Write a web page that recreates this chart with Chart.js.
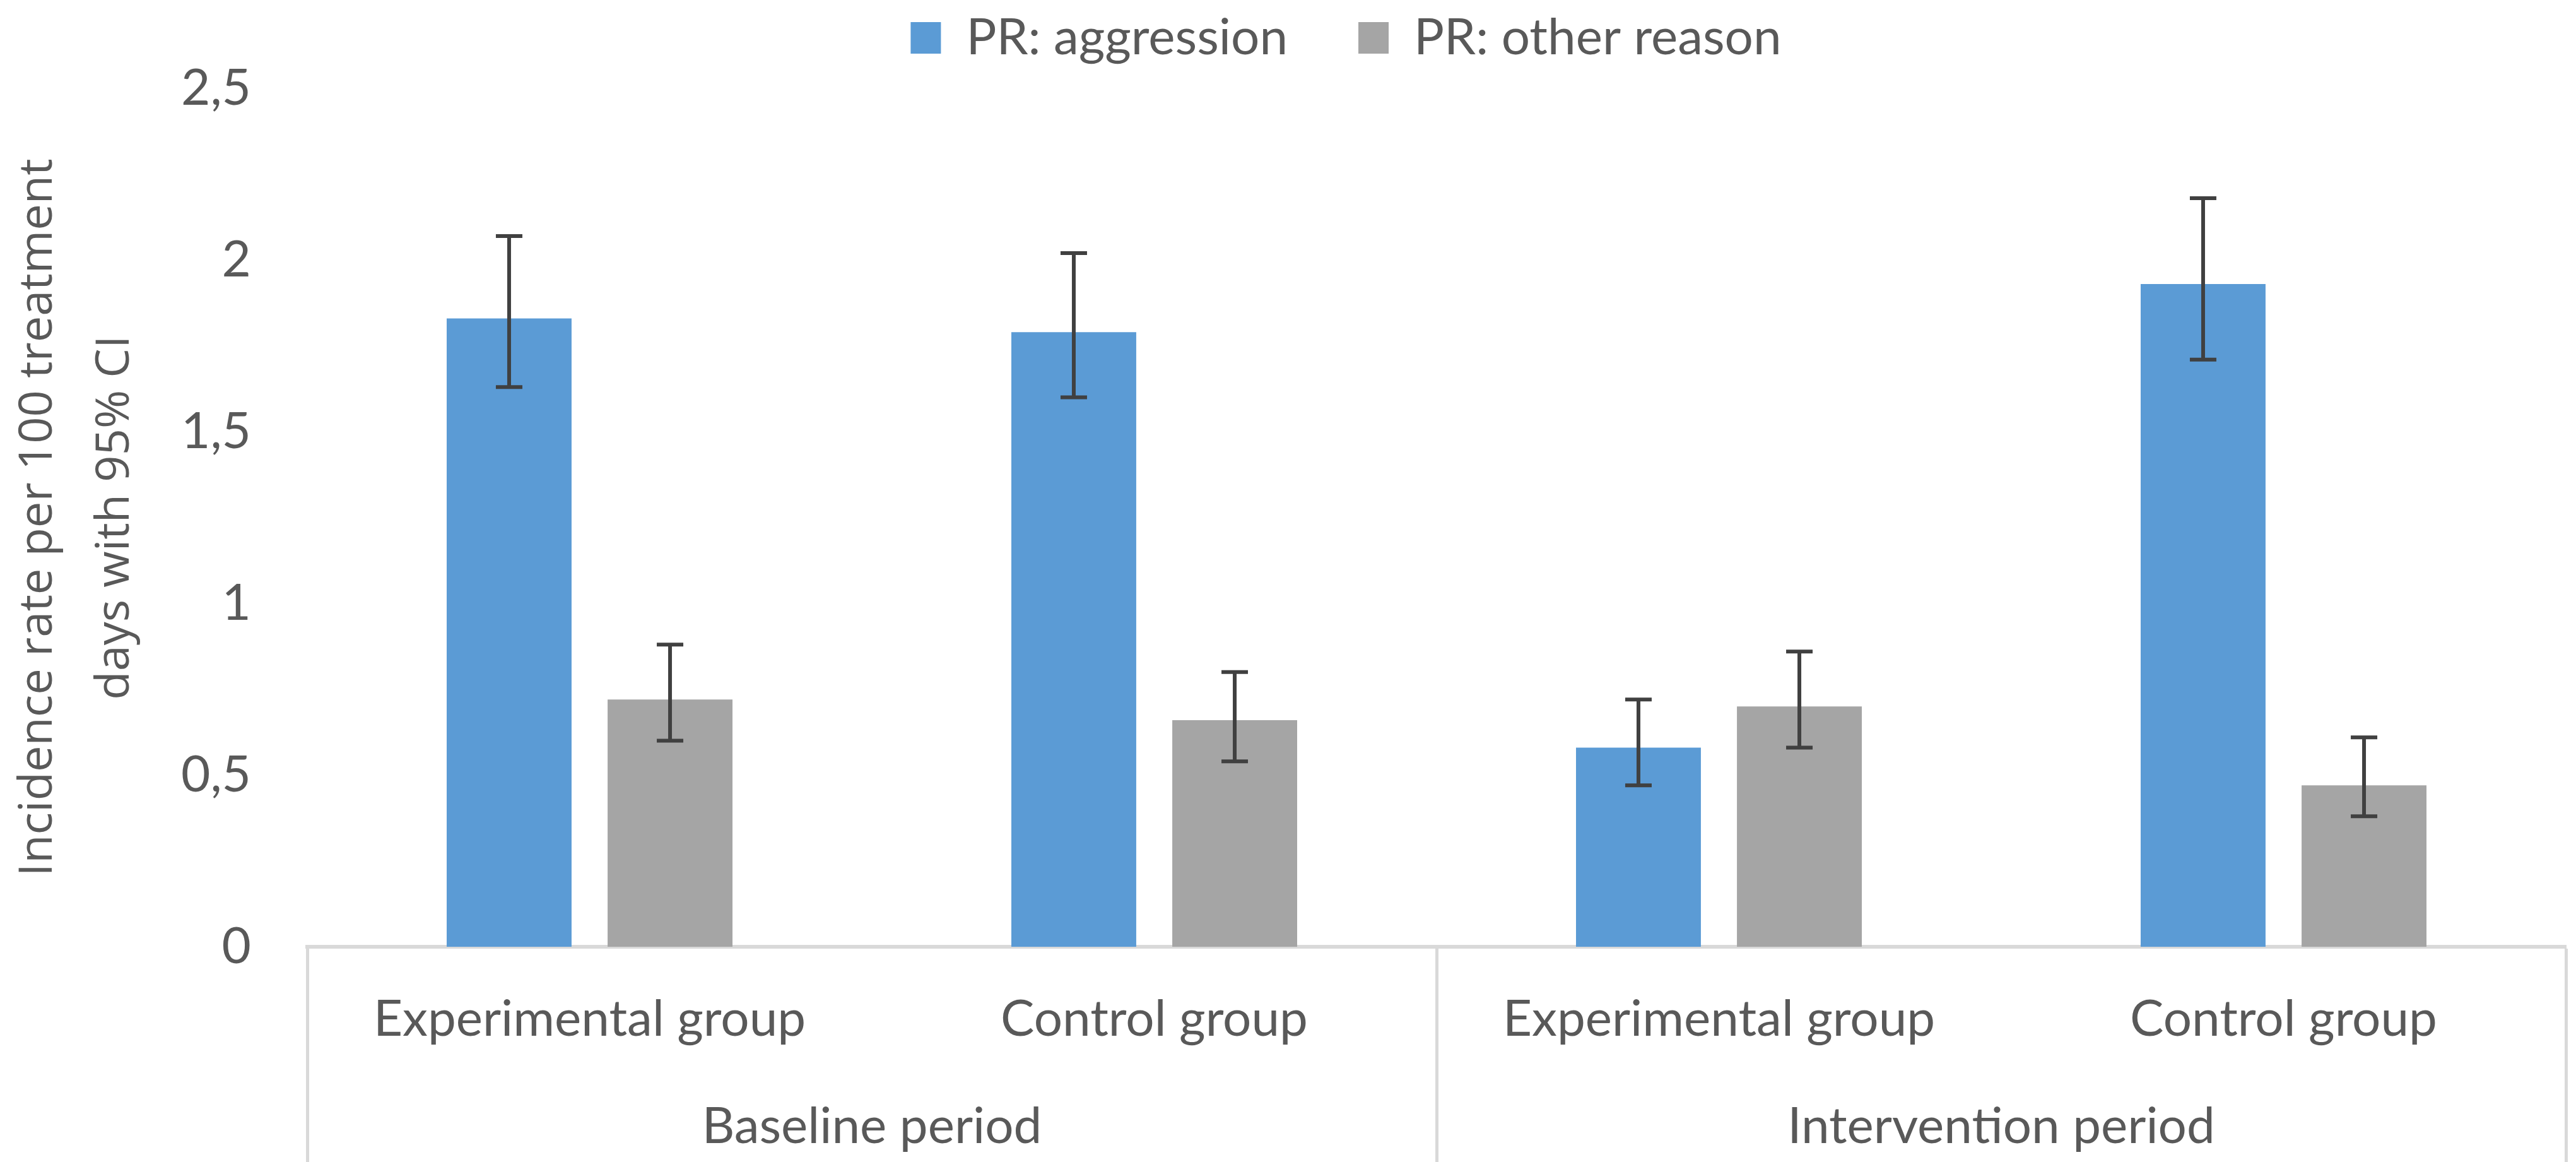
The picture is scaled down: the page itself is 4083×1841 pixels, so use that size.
<!DOCTYPE html>
<html>
<head>
<meta charset="utf-8">
<title>Incidence rate of PR</title>
<script src="https://cdn.jsdelivr.net/npm/chart.js@4.4.1/dist/chart.umd.min.js"></script>
<style>
  html, body { margin: 0; padding: 0; background: #fff; }
  #wrap { width: 4083px; height: 1841px; }
</style>
</head>
<body>
<div id="wrap"><canvas id="barChart" width="4083" height="1841"></canvas></div>
<script>
    // groups on the lower axis row, periods on the second row
    const groups = ['Experimental group', 'Control group', 'Experimental group', 'Control group'];
    const periods = ['Baseline period', 'Intervention period'];
    const yTicks = [0, 0.5, 1, 1.5, 2, 2.5];

    // incidence rate per 100 treatment days, with 95% CI
    const aggression = [1.83, 1.79, 0.58, 1.93];
    const aggressionLow = [1.63, 1.60, 0.47, 1.71];
    const aggressionHigh = [2.07, 2.02, 0.72, 2.18];

    const otherReason = [0.72, 0.66, 0.70, 0.47];
    const otherReasonLow = [0.60, 0.54, 0.58, 0.38];
    const otherReasonHigh = [0.88, 0.80, 0.86, 0.61];

    const textColor = '#595959';
    const lineColor = '#d9d9d9';
    const labelFont = { family: 'Lato', size: 80 };

    // whiskers drawn through the y scale of the chart
    const errorBars = {
        id: 'errorBars',
        afterDatasetsDraw(chart) {
            const ctx = chart.ctx;
            const y = chart.scales.y;
            ctx.save();
            ctx.strokeStyle = '#404040';
            ctx.lineWidth = 6;
            chart.data.datasets.forEach((ds, i) => {
                chart.getDatasetMeta(i).data.forEach((bar, j) => {
                    const top = y.getPixelForValue(ds.ciHigh[j]);
                    const bottom = y.getPixelForValue(ds.ciLow[j]);
                    const cap = 21;
                    ctx.beginPath();
                    ctx.moveTo(bar.x, top);
                    ctx.lineTo(bar.x, bottom);
                    ctx.moveTo(bar.x - cap, top);
                    ctx.lineTo(bar.x + cap, top);
                    ctx.moveTo(bar.x - cap, bottom);
                    ctx.lineTo(bar.x + cap, bottom);
                    ctx.stroke();
                });
            });
            ctx.restore();
        }
    };

    // legend sits right on top of the plot, so give it some extra room to lift the row
    const legendRoom = {
        id: 'legendRoom',
        afterInit(chart) {
            const fit = chart.legend.fit;
            chart.legend.fit = function () {
                fit.call(this);
                this.height += 30;
            };
        }
    };

    // empty legend entry, only used to space the real ones
    const spacer = () => ({
        text: '',
        fillStyle: 'rgba(0,0,0,0)',
        strokeStyle: 'rgba(0,0,0,0)',
        lineWidth: 0,
        hidden: false,
        datasetIndex: -1
    });

    const ctx = document.getElementById('barChart').getContext('2d');
    new Chart(ctx, {
        type: 'bar',
        data: {
            labels: groups,
            datasets: [{
                label: 'PR: aggression',
                data: aggression,
                ciLow: aggressionLow,
                ciHigh: aggressionHigh,
                backgroundColor: '#5b9bd5',
                categoryPercentage: 0.57,
                barPercentage: 0.776
            }, {
                label: 'PR: other reason',
                data: otherReason,
                ciLow: otherReasonLow,
                ciHigh: otherReasonHigh,
                backgroundColor: '#a5a5a5',
                categoryPercentage: 0.57,
                barPercentage: 0.776
            }]
        },
        options: {
            responsive: false,
            animation: false,
            devicePixelRatio: 1,
            layout: { padding: { left: 0, right: 16, top: 0, bottom: 6 } },
            plugins: {
                legend: {
                    position: 'top',
                    labels: {
                        font: labelFont,
                        color: textColor,
                        boxWidth: 48,
                        boxHeight: 50,
                        padding: 12,
                        generateLabels: chart => {
                            const items = Chart.defaults.plugins.legend.labels.generateLabels(chart);
                            return [spacer(), spacer(), items[0], spacer(), items[1]];
                        }
                    }
                },
                tooltip: { enabled: false }
            },
            scales: {
                x: {
                    type: 'category',
                    labels: groups,
                    position: 'bottom',
                    weight: 0,
                    offset: true,
                    grid: {
                        display: true,
                        offset: true,
                        drawOnChartArea: false,
                        tickLength: 341,
                        tickWidth: 5,
                        tickColor: c => (c.index === undefined || c.index % 2 === 0) ? lineColor : 'rgba(0,0,0,0)'
                    },
                    border: { display: true, color: lineColor, width: 6 },
                    ticks: { font: labelFont, color: textColor, padding: -274, maxRotation: 0, autoSkip: false },
                    afterFit: s => { s.height = 163; }
                },
                x2: {
                    type: 'category',
                    labels: periods,
                    position: 'bottom',
                    weight: 1,
                    offset: true,
                    grid: { display: false },
                    border: { display: false },
                    ticks: { font: labelFont, color: textColor, padding: 66, maxRotation: 0, autoSkip: false },
                    afterFit: s => { s.height = 172; }
                },
                y: {
                    min: 0,
                    max: 2.5,
                    afterBuildTicks: s => { s.ticks = yTicks.map(v => ({ value: v })); },
                    afterFit: s => {
                        s.width = 487;
                        s.paddingTop = 140;
                    },
                    grid: { display: false },
                    border: { display: false },
                    ticks: {
                        font: labelFont,
                        color: textColor,
                        padding: 81,
                        callback: v => String(v).replace('.', ',')
                    },
                    title: {
                        display: true,
                        text: ['Incidence rate per 100 treatment', 'days with 95% CI'],
                        font: { family: 'Open Sans', size: 74, lineHeight: 1.65 },
                        color: textColor,
                        padding: { top: 0, bottom: 0 }
                    }
                }
            }
        },
        plugins: [errorBars, legendRoom]
    });
</script>
</body>
</html>
